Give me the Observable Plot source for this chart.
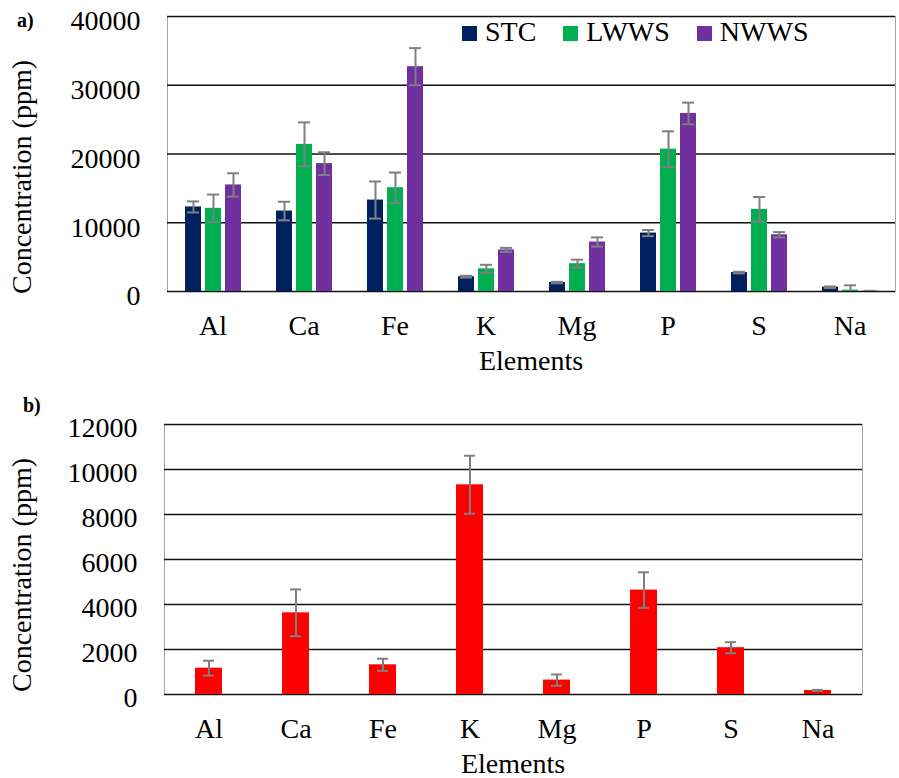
<!DOCTYPE html>
<html>
<head>
<meta charset="utf-8">
<script src="https://cdn.jsdelivr.net/npm/d3@7"></script>
<script src="https://cdn.jsdelivr.net/npm/@observablehq/plot@0.6"></script>
<style>
  body { margin: 0; background: #fff; }
  #fig { position: relative; width: 899px; height: 778px; overflow: hidden;
         font-family: "Liberation Serif", "Times New Roman", serif; color: #000; }
  .panel { position: absolute; left: 0; }
  .tag { position: absolute; font-weight: bold; font-size: 20px; line-height: 20px; }
  .ytitle { position: absolute; width: 320px; height: 30px; line-height: 30px; text-align: center;
            font-size: 28px; transform: rotate(-90deg); white-space: nowrap; }
  .xtitle { position: absolute; font-size: 28px; line-height: 28px; transform: translateX(-50%); white-space: nowrap; }
  .legend { position: absolute; font-size: 28px; line-height: 28px; white-space: nowrap; }
  .legend .item { display: inline-block; margin-right: 27px; }
  .legend .sw { display: inline-block; width: 15px; height: 15px; margin-right: 8px; }
</style>
</head>
<body>
<div id="fig"></div>
<script>
// Elements analysed (shared by both panels)
const elements = ["Al", "Ca", "Fe", "K", "Mg", "P", "S", "Na"];

// Panel a) — total concentration in the three materials (ppm)
const series = ["STC", "LWWS", "NWWS"];
const seriesColors = ["#002060", "#00b050", "#7030a0"];
const stcValues  = [12300, 11700, 13300, 2150, 1300, 8500, 2750, 620];
const stcErrors  = [800, 1350, 2700, 130, 110, 450, 120, 110];
const lwwsValues = [12100, 21400, 15100, 3300, 4050, 20700, 11950, 200];
const lwwsErrors = [2000, 3200, 2200, 580, 580, 2600, 1800, 700];
const nwwsValues = [15500, 18600, 32700, 6050, 7200, 25900, 8250, 60];
const nwwsErrors = [1700, 1650, 2700, 290, 670, 1570, 390, 40];
const topTicks = [0, 10000, 20000, 30000, 40000];

// Panel b) — leached concentration (ppm)
const leachValues = [1170, 3630, 1320, 9320, 640, 4640, 2080, 180];
const leachErrors = [330, 1040, 270, 1290, 250, 790, 245, 25];
const bottomTicks = [0, 2000, 4000, 6000, 8000, 10000, 12000];

const font = '"Liberation Serif", "Times New Roman", serif';
const gridStyle = {stroke: "#111", strokeOpacity: 1, strokeWidth: 1.6};
const errStyle = {stroke: "#7f7f7f", strokeWidth: 2, clip: true};

const valuesBySeries = [stcValues, lwwsValues, nwwsValues];
const errorsBySeries = [stcErrors, lwwsErrors, nwwsErrors];
const rows = elements.flatMap((el, i) => series.map((s, j) => ({
  element: el, series: s, value: valuesBySeries[j][i], err: errorsBySeries[j][i]
})));
const leach = elements.map((el, i) => ({element: el, value: leachValues[i], err: leachErrors[i]}));

const fig = document.getElementById("fig");

const chartA = Plot.plot({
  width: 899, height: 385,
  marginTop: 16, marginBottom: 94, marginLeft: 164, marginRight: 1,
  style: {fontFamily: font, fontSize: "28px", color: "#000", background: "transparent", overflow: "visible"},
  fx: {domain: elements, padding: 0, label: null, axis: "bottom", tickSize: 0, tickPadding: 24},
  x: {domain: series, paddingInner: 0.21, paddingOuter: 0.87, axis: null},
  y: {domain: [0, 40000], axis: null},
  color: {domain: series, range: seriesColors},
  marks: [
    Plot.frame({stroke: "#a6a6a6", facet: "super"}),
    Plot.gridY(topTicks, gridStyle),
    Plot.axisY(topTicks, {tickSize: 0, tickPadding: 27, dy: 5, tickFormat: d => String(d), label: null}),
    Plot.barY(rows, {fx: "element", x: "series", y: "value", fill: "series"}),
    Plot.ruleX(rows, {fx: "element", x: "series", y1: d => d.value - d.err, y2: d => d.value + d.err, ...errStyle}),
    Plot.tickY(rows, {fx: "element", x: "series", y: d => d.value + d.err, insetLeft: 2, insetRight: 2, ...errStyle}),
    Plot.tickY(rows, {fx: "element", x: "series", y: d => d.value - d.err, insetLeft: 2, insetRight: 2, ...errStyle})
  ]
});
chartA.classList.add("panel");
chartA.style.top = "0px";
fig.appendChild(chartA);

const chartB = Plot.plot({
  width: 899, height: 388,
  marginTop: 34, marginBottom: 84, marginLeft: 164, marginRight: 37,
  style: {fontFamily: font, fontSize: "28px", color: "#000", background: "transparent", overflow: "visible"},
  x: {domain: elements, paddingInner: 0.69, paddingOuter: 0.345, label: null, tickSize: 0, tickPadding: 24},
  y: {domain: [0, 12000], axis: null},
  marks: [
    Plot.frame({stroke: "#a6a6a6"}),
    Plot.gridY(bottomTicks, gridStyle),
    Plot.axisY(bottomTicks, {tickSize: 0, tickPadding: 27, dy: 4, tickFormat: d => String(d), label: null}),
    Plot.barY(leach, {x: "element", y: "value", fill: "#ff0000"}),
    Plot.ruleX(leach, {x: "element", y1: d => d.value - d.err, y2: d => d.value + d.err, ...errStyle}),
    Plot.tickY(leach, {x: "element", y: d => d.value + d.err, insetLeft: 8, insetRight: 8, ...errStyle}),
    Plot.tickY(leach, {x: "element", y: d => d.value - d.err, insetLeft: 8, insetRight: 8, ...errStyle})
  ]
});
chartB.classList.add("panel");
chartB.style.top = "390px";
fig.appendChild(chartB);

// Panel tags, axis titles and legend
function addDiv(cls, text, left, top) {
  const d = document.createElement("div");
  d.className = cls;
  d.textContent = text;
  d.style.left = left + "px";
  d.style.top = top + "px";
  fig.appendChild(d);
  return d;
}
addDiv("tag", "a)", 17, 10);
addDiv("tag", "b)", 23, 395);
addDiv("ytitle", "Concentration (ppm)", -138, 162);
addDiv("ytitle", "Concentration (ppm)", -138, 560);
addDiv("xtitle", "Elements", 531, 347);
addDiv("xtitle", "Elements", 513, 750);

const legend = addDiv("legend", "", 462, 18);
series.forEach((s, i) => {
  const item = document.createElement("span");
  item.className = "item";
  const sw = document.createElement("span");
  sw.className = "sw";
  sw.style.background = seriesColors[i];
  item.appendChild(sw);
  item.appendChild(document.createTextNode(s));
  legend.appendChild(item);
});
</script>
</body>
</html>
